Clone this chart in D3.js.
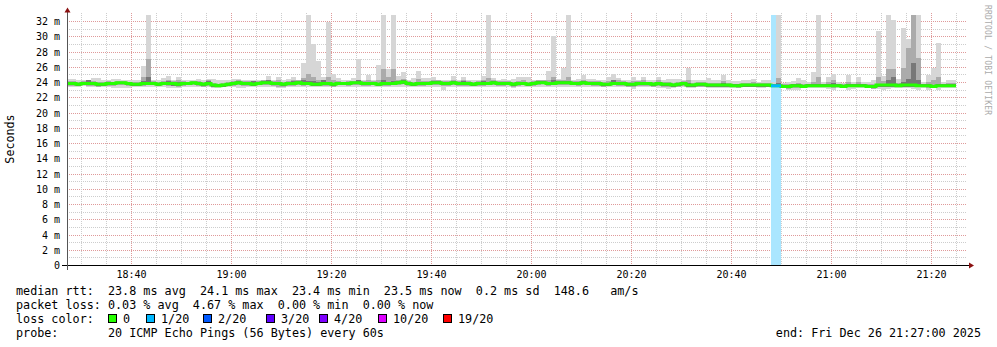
<!DOCTYPE html>
<html>
<head>
<meta charset="utf-8">
<script src="https://cdn.jsdelivr.net/npm/d3@7"></script>
<style>
  body { margin: 0; background: #fff; }
  text { font-family: "DejaVu Sans Mono", monospace; }
  .legend text { white-space: pre; font-size: 11.75px; fill: #000; }
</style>
</head>
<body>
<svg id="chart" width="997" height="347"></svg>
<script>
// time frame: one sample per minute
const startTime = new Date(2025, 11, 26, 18, 27, 0);
const endTime = new Date(2025, 11, 26, 21, 27, 0);
const stepSeconds = 60;

// median rtt (ms)
const median = [
  23.8,23.8,23.7,23.8,23.8,23.8,23.7,23.7,23.8,23.8,
  23.9,23.9,23.8,23.7,23.7,23.8,23.8,23.8,23.7,23.8,
  23.8,23.8,23.7,23.8,23.8,23.9,23.8,23.7,23.8,23.6,
  23.5,23.6,23.7,23.8,23.9,23.8,23.8,23.7,23.8,23.9,
  23.9,23.8,23.8,23.7,23.8,23.8,23.9,23.8,23.8,23.7,
  23.7,23.8,23.8,23.7,23.8,23.8,23.8,23.9,23.9,23.8,
  23.8,23.8,23.7,23.8,23.8,23.8,23.9,24.0,23.8,23.7,
  23.8,23.8,23.8,23.9,23.9,23.8,23.8,23.9,23.8,23.8,
  23.8,23.7,23.8,23.8,23.8,23.9,23.8,23.8,23.8,23.7,
  23.8,23.8,23.7,23.8,23.9,23.9,23.8,23.8,23.9,23.9,
  23.9,23.8,23.8,23.9,23.8,23.8,23.8,23.7,23.7,23.8,
  23.8,23.8,23.7,23.7,23.8,23.8,23.8,23.7,23.8,23.7,
  23.7,23.6,23.7,23.8,23.6,23.6,23.7,23.7,23.6,23.6,
  23.6,23.6,23.6,23.5,23.5,23.6,23.6,23.6,23.6,23.6,
  23.6,23.5,23.5,23.4,23.4,23.5,23.5,23.4,23.5,23.5,
  23.5,23.5,23.5,23.5,23.5,23.4,23.5,23.5,23.5,23.5,
  23.4,23.4,23.6,23.6,23.6,23.6,23.5,23.6,23.6,23.6,
  23.5,23.5,23.5,23.4,23.5,23.5,23.5,23.5
];

// highest ping of each round (ms)
const pingMax = [
  24.4,24.4,24.2,24.2,24.3,24.5,24.5,24.2,24.2,24.4,
  24.4,24.2,24.3,24.2,24.2,26.1,34.0,24.3,24.2,24.5,
  24.8,24.3,24.7,24.3,24.2,24.2,24.4,24.2,24.4,24.4,
  24.2,24.3,24.2,24.4,24.4,24.2,24.3,24.3,24.2,24.3,
  24.8,24.3,24.7,24.3,24.4,24.6,24.3,26.5,34.0,29.0,
  26.8,24.7,31.9,25.0,24.5,24.2,24.2,24.5,27.0,24.3,
  24.9,24.3,26.2,34.0,25.7,34.0,24.8,25.3,24.3,24.5,
  25.4,24.5,24.5,24.7,24.3,24.2,24.3,24.8,24.3,24.7,
  24.2,24.2,24.3,24.8,34.0,24.5,24.3,24.4,24.2,24.4,
  24.6,24.7,24.7,24.2,24.3,24.2,25.4,30.0,24.4,25.9,
  34.0,24.3,24.4,24.9,24.4,24.4,24.3,24.2,24.6,25.0,
  24.5,24.3,24.2,24.7,24.3,24.7,24.2,24.3,24.7,24.3,
  24.4,24.4,24.4,24.2,25.9,24.2,24.2,24.2,24.5,24.2,
  24.2,24.9,24.2,24.1,24.1,24.2,24.2,24.4,24.0,24.2,
  24.2,24.0,34.0,23.9,24.0,24.1,24.5,24.2,24.0,25.3,
  34.0,24.0,24.7,25.0,24.0,23.9,24.9,24.0,24.7,24.0,
  24.0,24.2,30.7,24.8,34.0,32.1,24.4,31.1,29.6,34.0,
  34.0,24.0,24.9,25.9,29.1,24.0,24.2,24.2
];

// lowest ping of each round (ms)
const pingMin = [
  23.4,23.4,23.4,23.5,23.4,23.3,23.3,23.4,23.4,23.2,
  23.2,23.2,23.2,23.4,23.4,23.4,23.4,23.4,23.4,23.4,
  23.2,23.2,23.2,23.4,23.4,23.4,23.3,23.3,23.3,23.2,
  23.2,23.3,23.4,23.4,23.2,23.2,23.4,23.4,23.4,23.4,
  23.4,23.4,23.2,23.2,23.4,23.4,23.4,23.3,23.4,23.4,
  23.4,23.4,23.3,23.3,23.4,23.4,23.4,23.4,23.4,23.3,
  23.3,23.4,23.4,23.4,23.4,23.4,23.4,23.4,23.3,23.3,
  23.4,23.4,23.4,23.4,23.3,23.0,23.3,23.4,23.4,23.4,
  23.4,23.4,23.3,23.3,23.4,23.4,23.3,23.3,23.4,23.2,
  23.4,23.4,23.3,23.4,23.4,23.4,23.4,23.4,23.3,23.4,
  23.4,23.4,23.3,23.3,23.4,23.4,23.3,23.3,23.4,23.4,
  23.4,23.3,23.3,23.1,23.3,23.3,23.3,23.3,23.2,23.2,
  23.1,23.2,23.3,23.3,23.2,23.2,23.3,23.3,23.2,23.2,
  23.2,23.2,23.2,23.2,23.2,23.3,23.3,23.3,23.2,23.2,
  23.3,23.3,23.3,23.2,22.9,22.9,22.9,23.2,23.2,23.2,
  23.2,23.2,23.1,22.9,23.2,23.2,22.9,23.1,23.2,23.2,
  23.2,23.2,23.1,23.0,23.1,23.2,23.2,23.2,23.2,23.1,
  23.0,23.2,22.9,23.2,23.0,23.2,23.2,23.2
];

// upper / lower edge of the middle smoke band (ms)
const pingHigh = [
  24.1,24.1,24.0,24.1,24.3,24.1,24.0,24.0,24.1,24.0,
  24.1,24.1,24.0,24.0,24.0,24.6,27.0,24.1,24.0,24.1,
  24.3,24.1,24.2,24.1,24.0,24.1,24.1,24.0,24.2,23.9,
  23.8,23.9,24.0,24.1,24.2,24.1,24.1,24.0,24.1,24.2,
  24.3,24.1,24.2,24.0,24.1,24.2,24.2,24.5,25.0,24.6,
  24.3,24.2,24.6,24.3,24.1,24.0,24.1,24.1,24.3,24.1,
  24.3,24.1,24.3,25.7,24.6,25.7,24.2,24.4,24.1,24.0,
  24.4,24.1,24.1,24.2,24.2,24.1,24.1,24.2,24.1,24.2,
  24.1,24.0,24.1,24.2,24.5,24.2,24.1,24.1,24.1,24.0,
  24.1,24.2,24.0,24.1,24.2,24.2,24.3,24.6,24.2,24.3,
  24.6,24.1,24.1,24.3,24.1,24.1,24.1,24.0,24.1,24.3,
  24.2,24.1,24.0,24.1,24.1,24.2,24.0,24.0,24.2,24.0,
  24.0,23.9,24.0,24.1,24.3,23.9,24.0,24.0,23.9,23.9,
  23.9,24.1,23.9,23.8,23.8,23.9,23.9,24.0,23.9,23.9,
  23.9,23.8,24.5,23.7,23.7,23.8,23.9,23.7,23.8,24.0,
  24.6,23.8,24.0,24.3,23.8,23.7,24.0,23.8,24.0,23.8,
  23.7,23.8,24.6,24.1,25.7,25.7,23.9,25.8,28.5,34.0,
  27.1,23.8,24.0,24.2,24.6,23.8,23.9,23.9
];
const pingLow = [
  23.5,23.5,23.5,23.6,23.5,23.5,23.4,23.5,23.5,23.5,
  23.6,23.6,23.5,23.5,23.5,23.5,23.6,23.6,23.5,23.6,
  23.5,23.5,23.4,23.5,23.6,23.6,23.5,23.4,23.5,23.4,
  23.3,23.4,23.5,23.5,23.6,23.5,23.5,23.5,23.6,23.6,
  23.6,23.5,23.4,23.4,23.5,23.5,23.6,23.5,23.6,23.5,
  23.5,23.5,23.5,23.4,23.6,23.6,23.5,23.6,23.6,23.5,
  23.5,23.6,23.5,23.5,23.5,23.6,23.6,23.7,23.5,23.5,
  23.5,23.5,23.6,23.6,23.6,23.5,23.5,23.6,23.5,23.5,
  23.5,23.5,23.5,23.5,23.6,23.6,23.5,23.5,23.6,23.4,
  23.5,23.6,23.5,23.5,23.6,23.7,23.5,23.6,23.6,23.6,
  23.6,23.6,23.5,23.6,23.6,23.5,23.5,23.4,23.5,23.6,
  23.5,23.5,23.4,23.4,23.5,23.5,23.5,23.4,23.5,23.4,
  23.4,23.3,23.4,23.5,23.4,23.4,23.4,23.4,23.3,23.3,
  23.3,23.3,23.3,23.3,23.2,23.4,23.4,23.4,23.3,23.4,
  23.4,23.3,23.3,23.2,23.1,23.2,23.2,23.2,23.3,23.3,
  23.3,23.3,23.3,23.2,23.3,23.2,23.3,23.3,23.3,23.3,
  23.2,23.1,23.3,23.3,23.4,23.4,23.3,23.4,23.4,23.3,
  23.3,23.3,23.2,23.2,23.3,23.3,23.3,23.3
];

// dense core of the smoke around the median (ms)
const coreHigh = [
  24.0,23.9,23.9,24.0,24.2,23.9,23.9,23.9,24.0,23.9,
  24.0,24.0,24.0,23.9,23.8,24.1,24.6,24.0,23.9,24.0,
  24.1,24.0,24.0,24.0,23.9,24.0,24.0,23.9,24.1,23.8,
  23.7,23.8,23.9,24.0,24.1,24.0,24.0,24.1,24.0,24.1,
  24.2,24.0,24.0,23.9,24.0,24.1,24.1,24.2,24.1,24.1,
  24.0,24.2,24.0,23.9,24.0,24.0,24.0,24.0,24.2,24.0,
  24.0,24.0,23.9,24.2,24.0,24.1,24.1,24.2,24.0,23.9,
  24.0,24.0,24.0,24.1,24.1,24.0,24.0,24.1,24.0,24.1,
  24.0,23.9,24.0,24.1,24.0,24.1,24.0,24.0,24.0,23.9,
  24.0,24.0,23.9,24.0,24.1,24.1,24.0,24.2,24.1,24.1,
  24.1,24.0,24.0,24.1,24.0,24.0,24.0,23.9,23.9,24.2,
  24.0,24.0,23.9,23.9,24.0,24.0,24.0,23.9,24.0,23.9,
  23.9,23.8,23.9,24.0,23.9,23.8,23.9,23.9,23.8,23.8,
  23.8,23.9,23.8,23.7,23.7,23.8,23.8,23.8,23.8,23.8,
  23.8,23.7,23.9,23.6,23.6,23.7,23.7,23.6,23.7,23.7,
  23.8,23.7,23.7,23.9,23.7,23.6,23.7,23.7,23.7,23.7,
  23.6,23.6,23.8,23.8,24.3,24.7,23.7,24.0,24.4,26.5,
  24.2,23.7,23.7,23.6,23.8,23.7,23.7,23.7
];
const coreLow = [
  23.6,23.6,23.5,23.6,23.6,23.6,23.5,23.5,23.6,23.6,
  23.7,23.7,23.6,23.5,23.5,23.6,23.6,23.6,23.5,23.6,
  23.6,23.5,23.5,23.6,23.6,23.7,23.6,23.5,23.6,23.4,
  23.3,23.4,23.5,23.6,23.7,23.6,23.6,23.5,23.6,23.7,
  23.7,23.6,23.6,23.5,23.6,23.6,23.7,23.6,23.6,23.5,
  23.5,23.6,23.6,23.5,23.6,23.6,23.6,23.7,23.7,23.6,
  23.6,23.6,23.5,23.6,23.6,23.6,23.7,23.8,23.6,23.5,
  23.6,23.6,23.6,23.7,23.7,23.6,23.6,23.7,23.6,23.6,
  23.6,23.5,23.6,23.6,23.6,23.7,23.6,23.6,23.6,23.5,
  23.6,23.6,23.5,23.6,23.7,23.7,23.6,23.6,23.7,23.7,
  23.7,23.6,23.6,23.7,23.6,23.6,23.6,23.5,23.5,23.6,
  23.6,23.6,23.5,23.5,23.6,23.6,23.6,23.5,23.6,23.5,
  23.5,23.4,23.5,23.6,23.4,23.4,23.5,23.5,23.4,23.4,
  23.4,23.4,23.4,23.3,23.3,23.4,23.4,23.4,23.4,23.4,
  23.4,23.3,23.3,23.2,23.2,23.3,23.3,23.2,23.3,23.3,
  23.3,23.3,23.3,23.3,23.3,23.2,23.3,23.3,23.3,23.3,
  23.2,23.2,23.4,23.4,23.4,23.4,23.3,23.4,23.4,23.4,
  23.3,23.3,23.3,23.2,23.3,23.3,23.3,23.3
];

// lost pings per round (of 20)
const lossCount = [
  0,0,0,0,0,0,0,0,0,0, 0,0,0,0,0,0,0,0,0,0,
  0,0,0,0,0,0,0,0,0,0, 0,0,0,0,0,0,0,0,0,0,
  0,0,0,0,0,0,0,0,0,0, 0,0,0,0,0,0,0,0,0,0,
  0,0,0,0,0,0,0,0,0,0, 0,0,0,0,0,0,0,0,0,0,
  0,0,0,0,0,0,0,0,0,0, 0,0,0,0,0,0,0,0,0,0,
  0,0,0,0,0,0,0,0,0,0, 0,0,0,0,0,0,0,0,0,0,
  0,0,0,0,0,0,0,0,0,0, 0,0,0,0,0,0,0,0,0,0,
  0,1,1,0,0,0,0,0,0,0, 0,0,0,0,0,0,0,0,0,0,
  0,0,0,0,0,0,0,0,0,0, 0,0,0,0,0,0,0,0
];

// loss color legend
const lossLevels = [0, 1, 2, 3, 4, 10, 19];
const lossLabels = ['0', '1/20', '2/20', '3/20', '4/20', '10/20', '19/20'];
const lossColors = ['#26ff00', '#00b8ff', '#0059ff', '#5e00ff', '#7e00ff', '#dd00ff', '#ff0000'];
const lossBackground = ['#ffffff', '#aae6ff', '#a6c4ff', '#c8a6ff', '#d2a6ff', '#f2a6ff', '#ffa6a6'];

const yTicks = [0, 2, 4, 6, 8, 10, 12, 14, 16, 18, 20, 22, 24, 26, 28, 30, 32];

const legendLines = [
  'median rtt:  23.8 ms avg  24.1 ms max  23.4 ms min  23.5 ms now  0.2 ms sd  148.6   am/s',
  'packet loss: 0.03 % avg  4.67 % max  0.00 % min  0.00 % now',
  'loss color:',
  'probe:       20 ICMP Echo Pings (56 Bytes) every 60s'
];
const endLabel = 'end: Fri Dec 26 21:27:00 2025';

const svg = d3.select('#chart');

const x = d3.scaleTime().domain([startTime, endTime]).range([66, 966]);
const y = d3.scaleLinear().domain([0, 32.787]).range([265, 15]);
const yTop = 15, yBottom = 265, xLeft = 67, xRight = 967;

const samples = median.map((m, i) => ({
  t0: new Date(+startTime + i * stepSeconds * 1000),
  t1: new Date(+startTime + (i + 1) * stepSeconds * 1000),
  median: m,
  max: pingMax[i], min: pingMin[i],
  high: pingHigh[i], low: pingLow[i],
  coreHigh: coreHigh[i], coreLow: coreLow[i],
  loss: lossCount[i]
}));

const lossIndex = (n) => {
  let k = 0;
  lossLevels.forEach((l, j) => { if (n >= l) k = j; });
  return k;
};

// grid
const grid = svg.append('g').attr('stroke-dasharray', '1,1').attr('stroke-width', 1);
d3.range(1, 33).forEach((v) => {
  const yy = Math.round(y(v)) + 0.5;
  grid.append('line')
    .attr('x1', xLeft).attr('x2', xRight)
    .attr('y1', yy).attr('y2', yy)
    .attr('stroke', v % 2 === 0 ? '#df9a9a' : '#cdcdcd');
});
d3.timeMinute.every(5).range(startTime, endTime).forEach((t) => {
  const xx = Math.round(x(t)) + 0.5;
  if (xx < xLeft) return;
  grid.append('line')
    .attr('x1', xx).attr('x2', xx)
    .attr('y1', yTop - 2).attr('y2', yBottom)
    .attr('stroke', t.getMinutes() % 20 === 0 ? '#df9a9a' : '#cdcdcd');
});

// plot clip
svg.append('clipPath').attr('id', 'plot')
  .append('rect').attr('x', xLeft).attr('y', yTop).attr('width', xRight - xLeft).attr('height', yBottom - yTop);

const plot = svg.append('g').attr('clip-path', 'url(#plot)');

// loss background
plot.selectAll('rect.lossbg')
  .data(samples.filter((d) => d.loss > 0))
  .enter().append('rect')
  .attr('class', 'lossbg')
  .attr('x', (d) => x(d.t0))
  .attr('width', (d) => x(d.t1) - x(d.t0))
  .attr('y', yTop).attr('height', yBottom - yTop)
  .attr('fill', (d) => lossBackground[lossIndex(d.loss)]);

// smoke
const smoke = (lo, hi, color) => {
  plot.append('g').selectAll('rect')
    .data(samples)
    .enter().append('rect')
    .attr('x', (d) => x(d.t0))
    .attr('width', (d) => x(d.t1) - x(d.t0))
    .attr('y', (d) => y(d[hi]))
    .attr('height', (d) => y(d[lo]) - y(d[hi]))
    .attr('fill', color)
    .attr('shape-rendering', 'crispEdges');
};
smoke('min', 'max', '#d6d6d6');
smoke('low', 'high', '#ababab');
smoke('coreLow', 'coreHigh', '#777777');

// median line (step), colored by loss
const stepPoints = samples.map((d) => [x(d.t0), y(d.median)]);
const last = samples[samples.length - 1];
stepPoints.push([x(last.t1), y(last.median)]);
plot.append('path')
  .attr('d', d3.line().curve(d3.curveStepAfter)(stepPoints))
  .attr('fill', 'none')
  .attr('stroke', lossColors[0])
  .attr('stroke-width', 3);
plot.selectAll('line.lossmed')
  .data(samples.filter((d) => d.loss > 0))
  .enter().append('line')
  .attr('class', 'lossmed')
  .attr('x1', (d) => x(d.t0)).attr('x2', (d) => x(d.t1))
  .attr('y1', (d) => y(d.median)).attr('y2', (d) => y(d.median))
  .attr('stroke', (d) => lossColors[lossIndex(d.loss)])
  .attr('stroke-width', 3);

// axes labels
const xAxis = d3.axisBottom(x)
  .ticks(d3.timeMinute.every(20))
  .tickFormat(d3.timeFormat('%H:%M'))
  .tickSize(0).tickPadding(6);
const gx = svg.append('g').attr('transform', 'translate(0,' + yBottom + ')').call(xAxis);
gx.select('.domain').remove();
gx.selectAll('text').style('font-size', '10px').attr('fill', '#000');

const yAxis = d3.axisLeft(y)
  .tickValues(yTicks)
  .tickFormat((d) => d === 0 ? '0' : d + ' m')
  .tickSize(0).tickPadding(7);
const gy = svg.append('g').attr('transform', 'translate(' + xLeft + ',0.5)').call(yAxis);
gy.select('.domain').remove();
gy.selectAll('text').style('font-size', '10px').attr('fill', '#000');

// axis lines + arrows
svg.append('line').attr('x1', 62).attr('x2', 970).attr('y1', yBottom + 0.5).attr('y2', yBottom + 0.5)
  .attr('stroke', '#000');
svg.append('line').attr('x1', xLeft + 0.5).attr('x2', xLeft + 0.5).attr('y1', 270).attr('y2', 11)
  .attr('stroke', '#555');
svg.append('path').attr('d', 'M969,262.5 L974,265.5 L969,268.5 Z').attr('fill', '#8b1010');
svg.append('path').attr('d', 'M64.5,12.5 L67.5,7.5 L70.5,12.5 Z').attr('fill', '#8b1010');

// vertical title
svg.append('text')
  .attr('transform', 'translate(14,139) rotate(-90)')
  .attr('text-anchor', 'middle')
  .style('font-size', '11.7px')
  .text('Seconds');

// watermark
svg.append('text')
  .attr('transform', 'translate(985,5) rotate(90)')
  .style('font-size', '8px')
  .style('letter-spacing', '0.2px')
  .attr('fill', '#aaaaaa')
  .text('RRDTOOL / TOBI OETIKER');

// legend
const legend = svg.append('g').attr('class', 'legend');
const baselines = [295, 309.2, 323.3, 337.4];
legendLines.forEach((line, i) => {
  legend.append('text').attr('x', 16).attr('y', baselines[i]).text(line);
});
legend.append('text').attr('x', 981).attr('y', baselines[3]).attr('text-anchor', 'end').text(endLabel);

const lossBoxX = [108, 146, 203, 266, 319, 378, 443];
lossLabels.forEach((lab, i) => {
  legend.append('rect')
    .attr('x', lossBoxX[i] + 0.5).attr('y', 314.5)
    .attr('width', 8).attr('height', 8)
    .attr('fill', lossColors[i]).attr('stroke', '#000');
  legend.append('text').attr('x', lossBoxX[i] + 15).attr('y', baselines[2]).text(lab);
});
</script>
</body>
</html>
